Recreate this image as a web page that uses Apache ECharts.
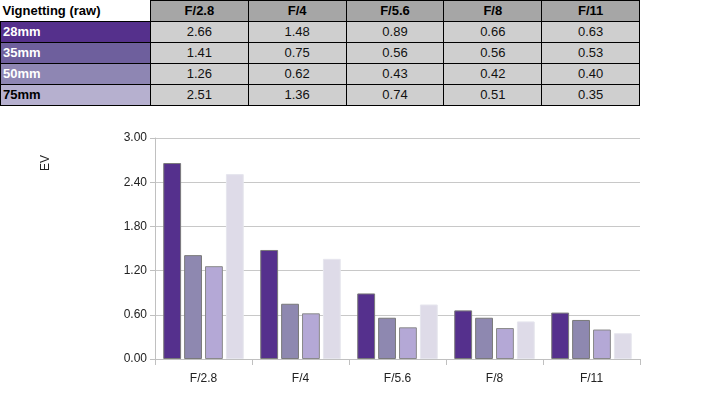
<!DOCTYPE html>
<html>
<head>
<meta charset="utf-8">
<script src="https://cdn.jsdelivr.net/npm/echarts@6/dist/echarts.min.js"></script>
<style>
  body { margin: 0; background: #fff; font-family: "Liberation Sans", Arial, sans-serif; }
  #tbl { position: absolute; left: 0; top: 0; border-collapse: collapse; table-layout: fixed; width: 640px; font-size: 13px; }
  #tbl td, #tbl th { border: 1px solid #000; height: 20px; padding: 0 2px; line-height: 20px; }
  #tbl th { background: #a6a6a6; font-weight: bold; text-align: center; }
  #tbl th.corner { background: #fff; text-align: left; border-top: none; border-left: none; }
  #tbl td { background: #cfcfcf; text-align: center; color: #111; }
  #tbl td.lens { text-align: left; font-weight: bold; color: #fff; }
  #chart { position: absolute; left: 0; top: 111px; width: 724px; height: 290px; }
</style>
</head>
<body>
<table id="tbl"></table>
<div id="chart"></div>
<script>
const apertures = ['F/2.8', 'F/4', 'F/5.6', 'F/8', 'F/11']
const lenses = ['28mm', '35mm', '50mm', '75mm']
const v28 = [2.66, 1.48, 0.89, 0.66, 0.63]
const v35 = [1.41, 0.75, 0.56, 0.56, 0.53]
const v50 = [1.26, 0.62, 0.43, 0.42, 0.40]
const v75 = [2.51, 1.36, 0.74, 0.51, 0.35]
const yTicks = [0, 0.6, 1.2, 1.8, 2.4, 3.0]

const values = [v28, v35, v50, v75]
const rowColors = ['#55308c', '#6e5f9d', '#8e86b3', '#b6b0cf']
const rowText = ['#fff', '#fff', '#fff', '#000']
const barColors = ['#55308d', '#8e88b0', '#b4a8d6', '#dedbe8']
const barBorders = ['#7a7a7a', '#7a7a7a', '#8a8a8a', '#e6e6ee']

// table
const tbl = document.getElementById('tbl')
let html = '<colgroup><col style="width:150px">' + apertures.map(() => '<col>').join('') + '</colgroup>'
html += '<tr><th class="corner">Vignetting (raw)</th>' + apertures.map((a) => '<th>' + a + '</th>').join('') + '</tr>'
lenses.forEach((l, i) => {
  html += '<tr><td class="lens" style="background:' + rowColors[i] + ';color:' + rowText[i] + '">' + l + '</td>'
  html += values[i].map((v) => '<td>' + v.toFixed(2) + '</td>').join('') + '</tr>'
})
tbl.innerHTML = html

// chart
const dom = document.getElementById('chart')
const chart = echarts.init(dom)

const option = {
  animation: false,
  textStyle: { fontFamily: 'Liberation Sans, Arial, sans-serif' },
  grid: { left: 155, right: 84, top: 27, bottom: 42 },
  graphic: [{
    type: 'text',
    x: 40,
    y: 60,
    rotation: Math.PI / 2,
    style: { text: 'EV', fontSize: 12, fill: '#222', fontFamily: 'Liberation Sans, Arial, sans-serif' },
  }],
  xAxis: {
    type: 'category',
    data: apertures,
    axisLine: { lineStyle: { color: '#c0c0c0', width: 1 } },
    axisTick: { show: true, length: 6, lineStyle: { color: '#c0c0c0' } },
    axisLabel: { color: '#222', fontSize: 12, margin: 14 },
  },
  yAxis: {
    type: 'value',
    min: yTicks[0],
    max: yTicks[yTicks.length - 1],
    interval: 0.6,
    axisLine: { show: true, lineStyle: { color: '#c0c0c0' } },
    axisTick: { show: true, length: 5, lineStyle: { color: '#c0c0c0' } },
    axisLabel: { color: '#222', fontSize: 12, margin: 8, formatter: (v) => v.toFixed(2) },
    splitLine: { lineStyle: { color: '#c8c8c8' } },
  },
  series: lenses.map((l, i) => ({
    name: l,
    type: 'bar',
    data: values[i],
    barGap: '17%',
    barCategoryGap: '17%',
    itemStyle: { color: barColors[i], borderColor: barBorders[i], borderWidth: 1 },
  })),
}

chart.setOption(option)
window.addEventListener('resize', () => chart.resize())
</script>
</body>
</html>
